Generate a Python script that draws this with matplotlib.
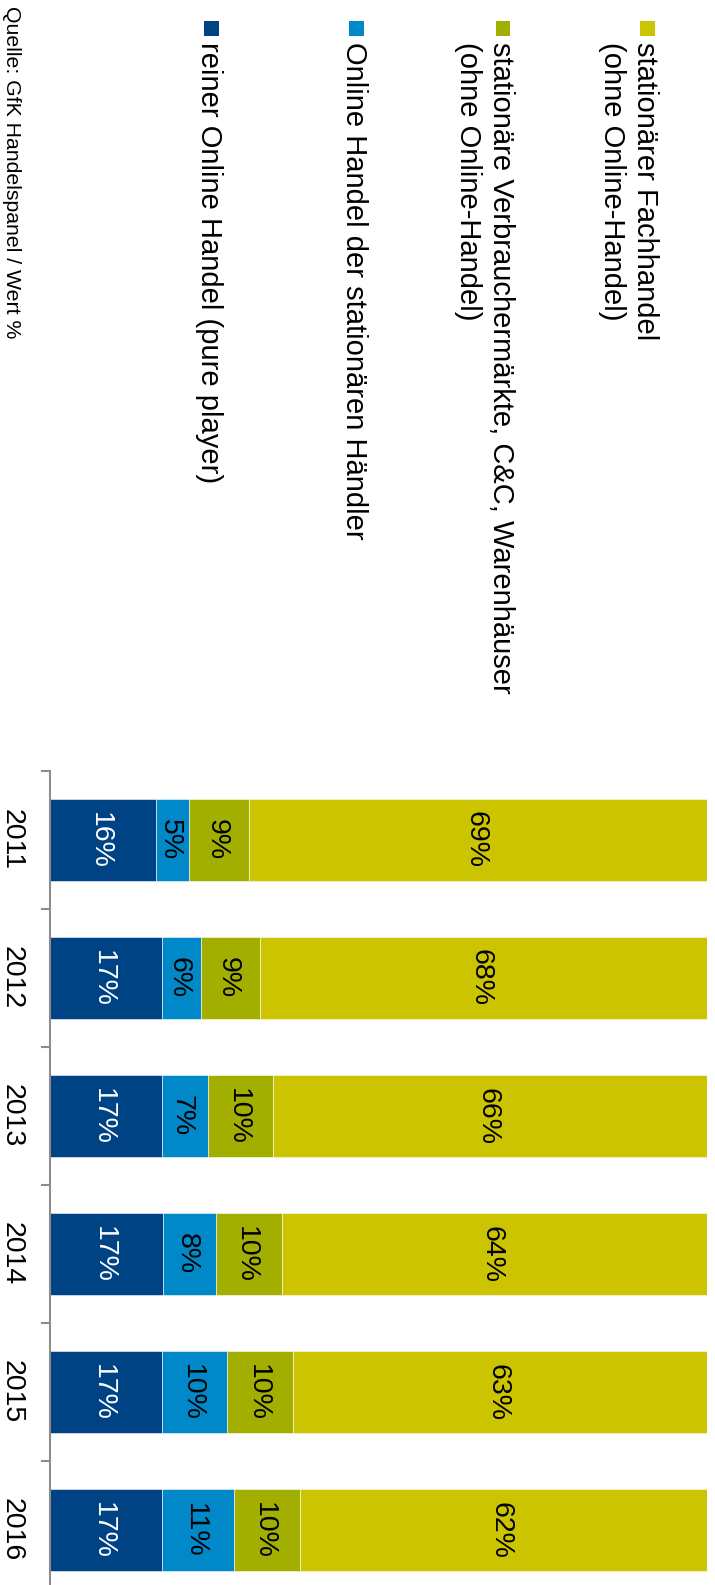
import matplotlib
matplotlib.use("Agg")
import matplotlib.pyplot as plt
from matplotlib.patches import Rectangle
from matplotlib.transforms import blended_transform_factory
import numpy as np

plt.rcParams['font.family'] = ['Liberation Sans', 'DejaVu Sans']

# ---- data ----
years = ['2011', '2012', '2013', '2014', '2015', '2016']
reiner_online = [16, 17, 17, 17, 17, 17]
online_stationaer = [5, 6, 7, 8, 10, 11]
verbrauchermaerkte = [9, 9, 10, 10, 10, 10]
fachhandel = [69, 68, 66, 64, 63, 62]

series_labels = [
    'stationärer Fachhandel\n(ohne Online-Handel)',
    'stationäre Verbrauchermärkte, C&C, Warenhäuser\n(ohne Online-Handel)',
    'Online Handel der stationären Händler',
    'reiner Online Handel (pure player)',
]
source_text = 'Quelle: GfK Handelspanel / Wert %'

# stacking order (bottom -> top of original column chart)
stack_series = [reiner_online, online_stationaer, verbrauchermaerkte, fachhandel]
stack_colors = ['#004385', '#0088C8', '#A2AF00', '#CCC400']
label_colors = ['white', 'black', 'black', 'black']
legend_colors = ['#CCC400', '#A2AF00', '#0088C8', '#004385']

W, H = 715, 1585
DPI = 100
fig = plt.figure(figsize=(W / DPI, H / DPI), dpi=DPI)

def fx(x):
    return x / W

def fy(y):
    return 1 - y / H

# axes: x pixels 50..707, y pixels 771..1599 (bottom clipped)
ax_left, ax_right, ax_top, ax_bot = 50, 707, 771, 1599
ax = fig.add_axes([fx(ax_left), fy(ax_bot), (ax_right - ax_left) / W, (ax_bot - ax_top) / H])

data = np.array(stack_series, dtype=float)
totals = data.sum(axis=0)
shares = data / totals * 100

pos = np.arange(len(years))
left = np.zeros(len(years))
for i, vals in enumerate(shares):
    ax.barh(pos, vals, left=left, height=0.6, color=stack_colors[i],
            edgecolor=(1, 1, 1, 0.55), linewidth=0.7)
    for j, v in enumerate(vals):
        ax.annotate(f'{stack_series[i][j]}%', xy=(left[j] + v / 2, pos[j]),
                    xytext=(-7.0, 0), textcoords='offset points',
                    rotation=-90, rotation_mode='anchor', ha='center', va='baseline',
                    fontsize=20.5, color=label_colors[i])
    left += vals

ax.set_xlim(0, 100)
ax.set_ylim(len(years) - 0.5, -0.5)
for s in ['top', 'right', 'bottom']:
    ax.spines[s].set_visible(False)
ax.spines['left'].set_color('#8c8c8c')
ax.spines['left'].set_linewidth(1.5)
ax.set_xticks([])
ax.set_yticks(np.arange(len(years) + 1) - 0.5)
ax.set_yticklabels([])
ax.tick_params(axis='y', direction='out', length=6.5, width=1.5, color='#8c8c8c')

# year labels
tr = blended_transform_factory(fig.transFigure, ax.transData)
for j, yr in enumerate(years):
    ax.text(fx(4.5), pos[j], yr, transform=tr, rotation=-90, rotation_mode='anchor',
            ha='center', va='baseline', fontsize=20.5, color='black')

# legend (rotated)
legend_baselines = [637, 493, 346.5, 201]
line_gap = 33.5
for k, lab in enumerate(series_labels):
    b = legend_baselines[k]
    fig.patches.append(Rectangle((fx(b + 2.5), fy(36)), 15 / W, 15 / H,
                                 transform=fig.transFigure, facecolor=legend_colors[k],
                                 edgecolor='none'))
    for li, line in enumerate(lab.split('\n')):
        fig.text(fx(b - li * line_gap), fy(41.5), line, rotation=-90, rotation_mode='anchor',
                 ha='left', va='baseline', fontsize=21, color='black')

# source
fig.text(fx(5.5), fy(6), source_text, rotation=-90, rotation_mode='anchor',
         ha='left', va='baseline', fontsize=15.3, color='black')

fig.savefig('out.png', dpi=DPI)
